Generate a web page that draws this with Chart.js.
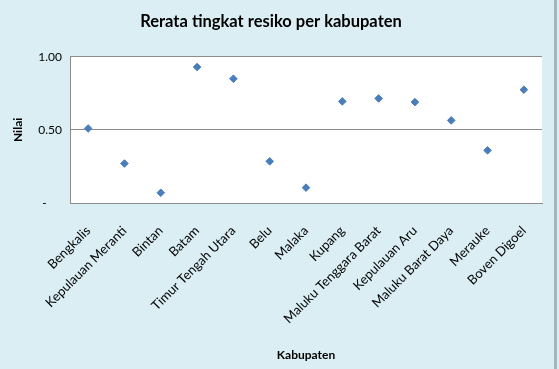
<!DOCTYPE html>
<html lang="id">
<head>
  <meta charset="utf-8"/>
  <title>Rerata tingkat resiko per kabupaten</title>
  <script src="https://cdn.jsdelivr.net/npm/chart.js@4/dist/chart.umd.min.js"></script>
  <style>
    html, body { margin: 0; padding: 0; background: #dbeef3; }
    #wrap { position: relative; width: 559px; height: 369px; }
    #edge { position: absolute; left: 554px; top: 0; width: 3px; height: 369px; background: #a3b5bd; }
  </style>
</head>
<body>
  <div id="wrap">
    <canvas id="chart" width="559" height="369"></canvas>
    <div id="edge"></div>
  </div>
  <script>
    var kabupaten = ['Bengkalis', 'Kepulauan Meranti', 'Bintan', 'Batam', 'Timur Tengah Utara',
      'Belu', 'Malaka', 'Kupang', 'Maluku Tenggara Barat', 'Kepulauan Aru',
      'Maluku Barat Daya', 'Merauke', 'Boven Digoel'];
    var nilai = [0.51, 0.27, 0.07, 0.93, 0.85, 0.285, 0.105, 0.695, 0.715, 0.69, 0.565, 0.36, 0.775];

    // white plot area like the excel chart
    var plotBg = {
      id: 'plotBg',
      beforeDraw: function(chart) {
        var a = chart.chartArea, ctx = chart.ctx;
        ctx.save();
        ctx.fillStyle = '#ffffff';
        ctx.fillRect(a.left, a.top, a.right - a.left, a.bottom - a.top);
        ctx.restore();
      }
    };

    new Chart(document.getElementById('chart'), {
      type: 'line',
      data: {
        labels: kabupaten,
        datasets: [{
          data: nilai,
          showLine: false,
          pointStyle: 'rectRot',
          pointRadius: 3.8,
          pointHoverRadius: 3.8,
          backgroundColor: '#4a7ebb',
          borderColor: '#4a7ebb',
          borderWidth: 1
        }]
      },
      options: {
        responsive: false,
        animation: false,
        events: [],
        layout: { padding: { left: 0, right: 17, top: 0, bottom: 0 } },
        plugins: {
          legend: { display: false },
          tooltip: { enabled: false },
          title: {
            display: true,
            text: 'Rerata tingkat resiko per kabupaten',
            color: '#000',
            font: { family: 'Lato', size: 16.5, weight: 'bold' },
            padding: { top: 12, bottom: 25 }
          }
        },
        scales: {
          x: {
            offset: true,
            grid: { display: false },
            border: { display: true, color: '#8c8c8c', width: 1 },
            ticks: {
              color: '#000',
              font: { family: 'Lato', size: 13 },
              minRotation: 45,
              maxRotation: 45,
              autoSkip: false,
              padding: 12
            },
            title: {
              display: true,
              text: 'Kabupaten',
              color: '#000',
              font: { family: 'Lato', size: 12, weight: 'bold' },
              padding: { top: 4, bottom: 7 }
            },
            afterFit: function(s) { s.height = 166; }
          },
          y: {
            min: 0,
            max: 1,
            grid: { color: '#8c8c8c', drawTicks: false },
            border: { display: true, color: '#8c8c8c', width: 1 },
            ticks: {
              stepSize: 0.5,
              color: '#000',
              font: { family: 'Lato', size: 12 },
              padding: 8,
              callback: function(v) { return v === 0 ? '-     ' : v.toFixed(2); }
            },
            title: {
              display: true,
              text: 'Nilai',
              color: '#000',
              font: { family: 'Lato', size: 12, weight: 'bold' },
              padding: { top: 11, bottom: 0 }
            },
            afterFit: function(s) { s.width = 70; }
          }
        }
      },
      plugins: [plotBg]
    });
  </script>
</body>
</html>
